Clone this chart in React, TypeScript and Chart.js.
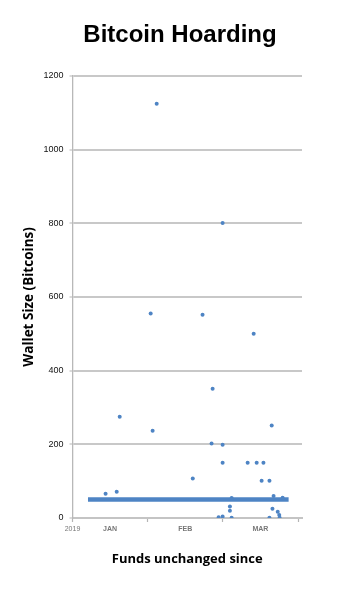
import React, { useEffect, useRef } from "react";
import { Chart, registerables } from "chart.js";

Chart.register(...registerables);

// x values are in months since 1 Jan 2019 (0 = start of Jan, 1 = start of Feb, ...)
const walletMonths = [
  0.44, 0.588, 0.628, 1.04, 1.066, 1.12, 1.6, 1.73, 1.85, 1.864, 1.944, 1.997,
  1.997, 1.997, 1.997, 2.094, 2.094, 2.117, 2.117, 2.33, 2.41, 2.45, 2.516,
  2.54, 2.62, 2.62, 2.65, 2.66, 2.675, 2.73, 2.75, 2.755, 2.795,
];
const walletSizes = [
  66, 71, 275, 555, 237, 1125, 107, 552, 202, 351, 2, 801, 199, 150, 4, 31, 20,
  54, 1, 150, 500, 150, 101, 150, 101, 1, 251, 25, 60, 17, 8, 1, 55,
];

// dense cluster of 50-BTC wallets drawn as a thick band
const bandMonths = [0.206, 2.875];
const bandSizes = [50, 50];

const xTickValues = [0, 0.5, 1, 1.5, 2, 2.5, 3];
const xTickLabels = ["2019", "JAN", "", "FEB", "", "MAR", ""];
const yTickStep = 200;
const yMax = 1200;

const BLUE = "#4e84c4";

export default function App() {
  const ref = useRef<HTMLCanvasElement | null>(null);

  useEffect(() => {
    if (!ref.current) return;
    const chart = new Chart(ref.current, {
      type: "scatter",
      data: {
        datasets: [
          {
            label: "Wallets",
            data: walletMonths.map((x, i) => ({ x, y: walletSizes[i] })),
            backgroundColor: BLUE,
            borderColor: BLUE,
            pointRadius: 2,
            pointBorderWidth: 0,
            order: 1,
          },
          {
            label: "50 BTC wallets",
            data: bandMonths.map((x, i) => ({ x, y: bandSizes[i] })),
            showLine: true,
            borderColor: BLUE,
            borderWidth: 4.5,
            borderCapStyle: "butt",
            pointRadius: 0,
            order: 2,
          },
        ],
      },
      options: {
        responsive: false,
        animation: false,
        layout: { padding: 0 },
        plugins: {
          legend: { display: false },
          tooltip: { enabled: false },
          title: {
            display: true,
            text: "Bitcoin Hoarding",
            color: "#000",
            font: { family: "'Liberation Sans', Arial, sans-serif", size: 24, weight: "bold", lineHeight: 1.2 },
            padding: { top: 20.6, bottom: 26.6 },
          },
        },
        scales: {
          x: {
            type: "linear",
            min: 0,
            max: 3.053,
            afterBuildTicks: (scale: any) => {
              scale.ticks = xTickValues.map((v) => ({ value: v }));
            },
            afterFit: (scale: any) => {
              scale.height = 84;
            },
            ticks: {
              autoSkip: false,
              maxRotation: 0,
              padding: 3,
              color: "#777",
              font: (ctx: any) => ({
                family: "'Liberation Sans', Arial, sans-serif",
                size: 7,
                weight: ctx.index === 0 ? "normal" : "bold",
              }),
              callback: (_v: any, i: number) => xTickLabels[i],
            },
            grid: {
              drawOnChartArea: false,
              tickLength: 4,
              tickWidth: 1.2,
              tickColor: (ctx: any) =>
                ctx.tick && Number.isInteger(ctx.tick.value) ? "#b5b5b5" : "rgba(0,0,0,0)",
            },
            border: { display: true, color: "#c4c4c4", width: 2 },
            title: {
              display: true,
              text: "Funds unchanged since",
              color: "#000",
              font: { family: "'Open Sans', sans-serif", size: 13, weight: "bold", lineHeight: 1.2 },
              padding: { top: 0, bottom: 35.2 },
            },
          },
          y: {
            min: 0,
            max: yMax,
            afterFit: (scale: any) => {
              scale.width = 72.5;
            },
            ticks: {
              stepSize: yTickStep,
              padding: 6,
              color: "#111",
              font: { family: "'Liberation Sans', Arial, sans-serif", size: 9 },
              callback: (v: any) => String(v),
            },
            grid: {
              color: "#c8c8c8",
              lineWidth: 2,
              tickLength: 3,
              tickColor: "#b5b5b5",
              tickWidth: 1,
            },
            border: { display: true, color: "#b8b8b8", width: 1.3 },
            title: {
              display: true,
              text: "Wallet Size (Bitcoins)",
              color: "#000",
              font: { family: "'Open Sans', sans-serif", size: 13.5, weight: "bold", lineHeight: 1.2 },
              padding: { top: 21, bottom: 0 },
            },
          },
          yRight: {
            position: "right",
            min: 0,
            max: yMax,
            afterFit: (scale: any) => {
              scale.width = 58;
            },
            ticks: { display: false },
            grid: { drawOnChartArea: false, drawTicks: false },
            border: { display: false },
          },
        },
      },
    });
    return () => chart.destroy();
  }, []);

  return (
    <div style={{ position: "absolute", left: 0, top: 0, width: 360, height: 602, background: "#fff" }}>
      <canvas ref={ref} width={360} height={602} />
    </div>
  );
}
